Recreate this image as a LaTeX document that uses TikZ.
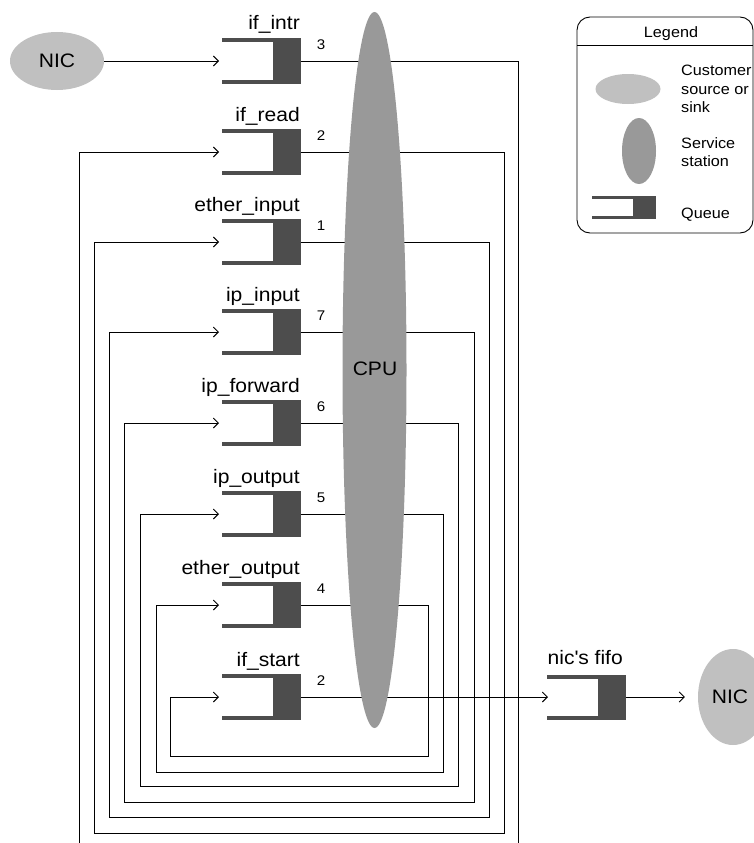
\documentclass[tikz,border=0pt]{standalone}
\usepackage{fontspec}
\setmainfont{Liberation Sans}[FakeStretch=1.08]
\usetikzlibrary{arrows.meta,shapes.geometric}
\definecolor{qdark}{HTML}{4D4D4D}
\definecolor{srcgray}{HTML}{C0C0C0}
\definecolor{cpugray}{HTML}{999999}
\tikzset{
  qshape/.style 2 args={inner sep=0pt, outer sep=0pt, draw=none,
    path picture={
      \fill[qdark] ([xshift=-#1]path picture bounding box.north east) rectangle (path picture bounding box.south east);
      \fill[qdark] (path picture bounding box.north west) rectangle ([yshift=-#2]path picture bounding box.north east);
      \fill[qdark] (path picture bounding box.south west) rectangle ([yshift=#2]path picture bounding box.south east);
    }},
  queue/.style={qshape={28pt}{4pt}, minimum width=79pt, minimum height=46pt},
  smallqueue/.style={qshape={23pt}{3pt}, minimum width=64pt, minimum height=23pt},
  qlabel/.style={anchor=base east, inner sep=0pt, font=\fontsize{19.5}{22}\selectfont},
  qnum/.style={anchor=base, inner sep=0pt, font=\fontsize{14}{16}\selectfont},
  conn/.style={line width=0.9pt, draw=black},
  arr/.style={conn, -{Straight Barb[length=5pt,width=10pt]}, shorten >=3pt},
  source/.style={ellipse, fill=srcgray, inner sep=0pt, font=\fontsize{19.5}{22}\selectfont},
  station/.style={ellipse, fill=cpugray, inner sep=0pt, font=\fontsize{19.5}{22}\selectfont},
  legtext/.style={inner sep=0pt, align=left, font=\fontsize{15}{18}\selectfont},
}
\begin{document}
\begin{tikzpicture}[x=1pt,y=-1pt]
\useasboundingbox (0,0) rectangle (754,843);

% queues
\node[queue] (qintr)  at (261.5,61)  {};
\node[queue] (qread)  at (261.5,152) {};
\node[queue] (qein)   at (261.5,242) {};
\node[queue] (qipin)  at (261.5,332) {};
\node[queue] (qipfw)  at (261.5,423) {};
\node[queue] (qipout) at (261.5,514) {};
\node[queue] (qeout)  at (261.5,605) {};
\node[queue] (qstart) at (261.5,697) {};
\node[queue, minimum height=45pt] (qfifo) at (586.5,697) {};

% labels
\node[qlabel] (lintr)  at ([xshift=-1pt,yshift=8pt]qintr.north east)  {if\_intr};
\node[qlabel] (lread)  at ([xshift=-1pt,yshift=8pt]qread.north east)  {if\_read};
\node[qlabel] (lein)   at ([xshift=-1pt,yshift=8pt]qein.north east)   {ether\_input};
\node[qlabel] (lipin)  at ([xshift=-1pt,yshift=8pt]qipin.north east)  {ip\_input};
\node[qlabel] (lipfw)  at ([xshift=-1pt,yshift=8pt]qipfw.north east)  {ip\_forward};
\node[qlabel] (lipout) at ([xshift=-1pt,yshift=8pt]qipout.north east) {ip\_output};
\node[qlabel] (leout)  at ([xshift=-1pt,yshift=8pt]qeout.north east)  {ether\_output};
\node[qlabel] (lstart) at ([xshift=-1pt,yshift=8pt]qstart.north east) {if\_start};
\node[qlabel] (lfifo)  at ([xshift=-3pt,yshift=10pt]qfifo.north east) {nic\textquotesingle s fifo};

% numbers
\node[qnum] (nintr)  at ([xshift=20pt,yshift=11.5pt]qintr.east)  {3};
\node[qnum] (nread)  at ([xshift=20pt,yshift=11.5pt]qread.east)  {2};
\node[qnum] (nein)   at ([xshift=20pt,yshift=11.5pt]qein.east)   {1};
\node[qnum] (nipin)  at ([xshift=20pt,yshift=11.5pt]qipin.east)  {7};
\node[qnum] (nipfw)  at ([xshift=20pt,yshift=11.5pt]qipfw.east)  {6};
\node[qnum] (nipout) at ([xshift=20pt,yshift=11.5pt]qipout.east) {5};
\node[qnum] (neout)  at ([xshift=20pt,yshift=11.5pt]qeout.east)  {4};
\node[qnum] (nstart) at ([xshift=20pt,yshift=11.5pt]qstart.east) {2};

% sources / sinks
\node[source, minimum width=94pt, minimum height=58pt] (nicL) at (57,61) {NIC};
\node[source, minimum width=70pt, minimum height=96pt] (nicR) at (733,697) {\hspace*{-6pt}NIC};

% free ends
\coordinate (outbot) at (518,843);
\coordinate (inbot)  at (79,843);

% connectors
\draw[arr] (nicL) -- (qintr.west);
\draw[conn] (qintr.east) -| (outbot);
\draw[arr] (inbot) |- (qread.west);
\draw[arr] (qread.east)  -| (504,833) -| (94,242)  -- (qein.west);
\draw[arr] (qein.east)   -| (489,817) -| (109,332) -- (qipin.west);
\draw[arr] (qipin.east)  -| (474,802) -| (124,423) -- (qipfw.west);
\draw[arr] (qipfw.east)  -| (458,786) -| (140,514) -- (qipout.west);
\draw[arr] (qipout.east) -| (443,772) -| (156,605) -- (qeout.west);
\draw[arr] (qeout.east)  -| (428,756) -| (170,697) -- (qstart.west);
\draw[arr, shorten >=-1pt] (qstart.east) -- (qfifo.west);
\draw[arr, shorten >=13pt] (qfifo.east) -- (nicR.west);

% CPU on top of the lines
\node[station, minimum width=64pt, minimum height=716pt] (cpu) at (374.5,370) {};
\node[inner sep=0pt, font=\fontsize{19.5}{22}\selectfont] (cpulabel) at (375,369) {CPU};

% legend
\draw[line width=0.9pt, rounded corners=13pt] (577,17) rectangle (753,233);
\draw[line width=0.9pt] (577,45) -- (753,45);
\node[anchor=base, inner sep=0pt, font=\fontsize{15}{18}\selectfont] (legtitle) at (671,38) {Legend};
\node[source, minimum width=65pt, minimum height=30pt] (legsrc) at (628,89) {};
\node[station, minimum width=34pt, minimum height=66pt] (legst) at (639,151) {};
\node[smallqueue] (legq) at (624,207.5) {};
\node[legtext, anchor=base west] (legsrct) at (681,112) {Customer\\source or\\sink};
\node[legtext, anchor=base west] (legstt) at (681,166) {Service\\station};
\node[legtext, anchor=base west] (legqt) at (681,218) {Queue};
\end{tikzpicture}
\end{document}
